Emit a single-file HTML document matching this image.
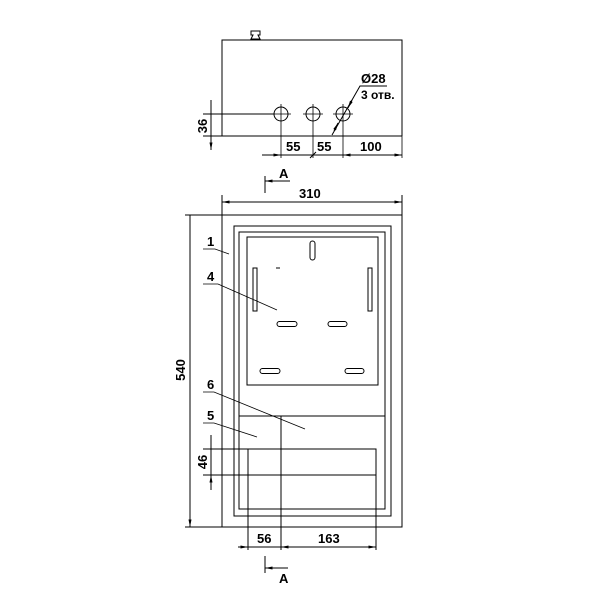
<!DOCTYPE html>
<html><head><style>body{margin:0;background:#fff}svg{display:block}text{font-family:"Liberation Sans",sans-serif;font-weight:bold;fill:#000}</style></head><body>
<svg width="600" height="600" viewBox="0 0 600 600" xmlns="http://www.w3.org/2000/svg">
<defs>
<marker id="a" viewBox="0 0 10 4" refX="10" refY="2" markerWidth="8" markerHeight="3" orient="auto-start-reverse" markerUnits="userSpaceOnUse"><path d="M0,0L10,2L0,4z" fill="#000"/></marker>
</defs>
<g stroke="#000" stroke-width="1" fill="none">
<path d="M222,136V40H402V136"/>
<path d="M210,136H402"/>
<path d="M251,39h9l-2,-4h2v-4h-9v4h2z"/>
<path d="M203,114H274"/>
<circle cx="281" cy="114" r="7"/><circle cx="313" cy="114" r="7"/><circle cx="343" cy="114" r="7"/>
<path d="M281,104V158M271,114h20M313,104V158M303,114h20M343,104V158M333,114h20M402,136V158" stroke-width="0.8"/>
<path d="M211,100V150" /><path d="M211,114V100M211,136V150" marker-end="url(#a)"/>
<path d="M203,136H218"/>
<path d="M262,155H402"/>
<path d="M270,155H281" marker-end="url(#a)"/>
<path d="M392,155H402" marker-end="url(#a)"/>
<path d="M353,155H343" marker-end="url(#a)"/>
<path d="M310,158L316,152"/>
<path d="M332,135L360,86H387"/>
<path d="M352,100L348,108" marker-end="url(#a)"/>
<path d="M334,131L338,123" marker-end="url(#a)"/>
<path d="M265,176V193M290,181H265" />
<path d="M275,181H265" marker-end="url(#a)"/>
<path d="M222,202H402"/>
<path d="M232,202H222" marker-end="url(#a)"/><path d="M392,202H402" marker-end="url(#a)"/>
<path d="M185,215H402V527H185M222,195V527M222,195V215M402,195V215"/>
<path d="M190,225V215M190,517V527" marker-end="url(#a)"/><path d="M190,215V527"/>
<rect x="234" y="226" width="157" height="290"/>
<rect x="239" y="232" width="146" height="277"/>
<rect x="247" y="237" width="131" height="148"/>
<path d="M239,416H385"/>
<path d="M203,449H376V550M248,449V550M203,475H376M281,416V550"/>
<path d="M211,435V490"/><path d="M211,440V449M211,484V475" marker-end="url(#a)"/>
<path d="M238,547H376"/>
<path d="M240,547H248" marker-end="url(#a)"/><path d="M291,547H281" marker-end="url(#a)"/><path d="M366,547H376" marker-end="url(#a)"/>
<path d="M265,556V573M288,568H265"/><path d="M275,568H265" marker-end="url(#a)"/>
<rect x="310" y="241" width="5" height="19" rx="2.5"/>
<rect x="253" y="268" width="4" height="43"/>
<rect x="368" y="268" width="4" height="43"/>
<rect x="277" y="321.5" width="20" height="5" rx="2.5"/>
<rect x="328" y="321.5" width="19" height="5" rx="2.5"/>
<rect x="260" y="368.5" width="20" height="5" rx="2.5"/>
<rect x="345" y="368.5" width="19" height="5" rx="2.5"/>
<path d="M276,268h4"/>
<path d="M203,249H215L229,254M203,284H218L277,310M203,392H214L305,429M203,423H214L257,437" stroke-width="0.8"/>
</g>
<g font-size="13">
<text x="286" y="151">55</text><text x="317" y="151">55</text><text x="360" y="151">100</text>
<text x="361" y="83">Ø28</text><text x="361" y="99" font-size="12">3 отв.</text>
<text x="279" y="178">A</text>
<text x="299" y="198">310</text>
<text x="207" y="246">1</text><text x="207" y="281">4</text><text x="207" y="389">6</text><text x="207" y="420">5</text>
<text x="257" y="543">56</text><text x="318" y="543">163</text>
<text x="279" y="583">A</text>
<text transform="translate(207,126) rotate(-90)" text-anchor="middle">36</text>
<text transform="translate(207,462) rotate(-90)" text-anchor="middle">46</text>
<text transform="translate(185,370) rotate(-90)" text-anchor="middle">540</text>
</g>
</svg>
</body></html>
